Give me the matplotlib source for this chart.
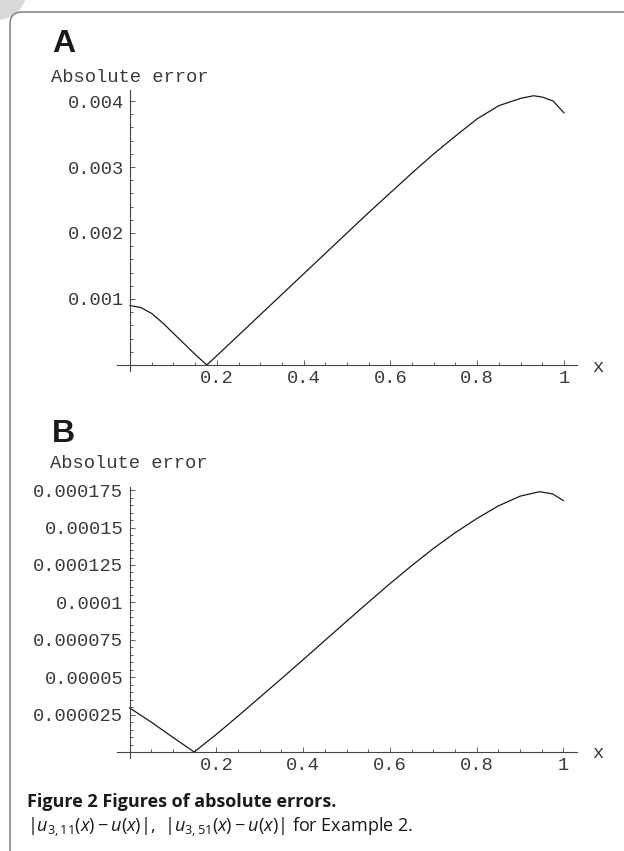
import matplotlib
matplotlib.use("Agg")
from matplotlib import pyplot as plt
from matplotlib import patches

# values
xa = [0.0, 0.025, 0.05, 0.075, 0.1, 0.125, 0.15, 0.177, 0.2, 0.25, 0.3, 0.35, 0.4,
      0.45, 0.5, 0.55, 0.6, 0.65, 0.7, 0.75, 0.8, 0.85, 0.9, 0.93, 0.95, 0.975, 1.0]
ya = [0.00090, 0.00087, 0.00078, 0.00064, 0.00048, 0.00032, 0.00016, 0.0, 0.00014,
      0.00045, 0.00076, 0.00107, 0.00138, 0.00169, 0.00200, 0.00231, 0.00261,
      0.00291, 0.00320, 0.00347, 0.00373, 0.00393, 0.00404, 0.00408, 0.00406,
      0.00400, 0.00382]

xb = [0.0, 0.05, 0.1, 0.149, 0.2, 0.25, 0.3, 0.35, 0.4, 0.45, 0.5, 0.55, 0.6, 0.65,
      0.7, 0.75, 0.8, 0.85, 0.9, 0.945, 0.975, 1.0]
yb = [0.0000295, 0.0000200, 0.0000098, 0.0, 0.0000118, 0.0000240, 0.0000365,
      0.0000490, 0.0000617, 0.0000745, 0.0000873, 0.0001000, 0.0001125, 0.0001245,
      0.0001360, 0.0001465, 0.0001560, 0.0001645, 0.0001710, 0.0001740, 0.0001725,
      0.0001680]

x_ticks = [0.2, 0.4, 0.6, 0.8, 1.0]
x_labels = ['0.2', '0.4', '0.6', '0.8', '1']
ya_ticks = [0.001, 0.002, 0.003, 0.004]
ya_labels = ['0.001', '0.002', '0.003', '0.004']
yb_ticks = [0.000025, 0.00005, 0.000075, 0.0001, 0.000125, 0.00015, 0.000175]
yb_labels = ['0.000025', '0.00005', '0.000075', '0.0001', '0.000125', '0.00015', '0.000175']

W, H = 624, 851
fig = plt.figure(figsize=(W / 100, H / 100), dpi=100)
fig.patch.set_facecolor('white')

mono = 'Liberation Mono'
txt = '#3a3a3a'


def px_axes(left, right, top, bottom):
    return fig.add_axes([left / W, 1 - bottom / H, (right - left) / W, (bottom - top) / H])


def style(ax, x, y, yt, yl, ymin, ymax, yminor):
    ax.plot(x, y, color='#1a1a1a', lw=0.9)
    ax.set_xlim(-0.03, 1.03)
    ax.set_ylim(ymin, ymax)
    ax.patch.set_alpha(0)
    for s in ['top', 'right']:
        ax.spines[s].set_visible(False)
    for s in ['left', 'bottom']:
        ax.spines[s].set_position(('data', 0))
        ax.spines[s].set_color('#444444')
        ax.spines[s].set_linewidth(0.8)
    ax.set_xticks(x_ticks)
    ax.set_xticklabels(x_labels)
    ax.set_xticks([i * 0.05 for i in range(1, 21) if i % 4 != 0], minor=True)
    ax.set_yticks(yt)
    ax.set_yticklabels(yl)
    ax.set_yticks(yminor, minor=True)
    ax.tick_params(which='both', direction='in', color='#444444', width=0.6,
                   labelsize=13.5, labelcolor=txt)
    ax.tick_params(which='major', length=3.8)
    ax.tick_params(which='minor', length=2.2)
    ax.tick_params(axis='y', pad=4.5)
    ax.tick_params(axis='x', pad=3.5)
    for lab in ax.get_xticklabels() + ax.get_yticklabels():
        lab.set_family(mono)


# panel A
axA = px_axes(117, 577, 89.8, 370.9)
minorA = [i * 0.0002 for i in range(1, 21) if i % 5 != 0]
style(axA, xa, ya, ya_ticks, ya_labels, -0.00009, 0.00417, minorA)

# panel B
axB = px_axes(116.5, 576.5, 487.2, 758)
minorB = [i * 0.000005 for i in range(1, 36) if i % 5 != 0]
style(axB, xb, yb, yb_ticks, yb_labels, -0.000004, 0.000177, minorB)

# overlay in pixel coordinates for frame and texts
ov = fig.add_axes([0, 0, 1, 1])
ov.set_xlim(0, W)
ov.set_ylim(H, 0)
ov.axis('off')
ov.patch.set_alpha(0)

ov.add_patch(patches.Circle((-3, -10), 30, color='#d9d9d9', lw=0))
ov.add_patch(patches.FancyBboxPatch((10, 12), 700, 900,
                                    boxstyle='round,pad=0,rounding_size=12',
                                    fill=False, edgecolor='#808080', lw=1.1))

ov.text(52, 44, 'A', fontsize=23, fontweight='bold', family='Liberation Sans',
        color='#1a1a1a', va='center', ha='left')
ov.text(52, 434, 'B', fontsize=23, fontweight='bold', family='Liberation Sans',
        color='#1a1a1a', va='center', ha='left')
ov.text(51, 78, 'Absolute error', fontsize=13.5, family=mono, color=txt,
        va='center', ha='left')
ov.text(50, 463, 'Absolute error', fontsize=13.5, family=mono, color=txt,
        va='center', ha='left')
ov.text(598, 367, 'x', fontsize=13.5, family=mono, color=txt, va='center', ha='center')
ov.text(598, 753, 'x', fontsize=13.5, family=mono, color=txt, va='center', ha='center')

plt.rcParams['mathtext.fontset'] = 'custom'
plt.rcParams['mathtext.rm'] = 'Open Sans'
plt.rcParams['mathtext.it'] = 'Open Sans:italic'
plt.rcParams['mathtext.bf'] = 'Open Sans:bold'

ov.text(27, 802, 'Figure 2 Figures of absolute errors.', fontsize=13,
        fontweight='bold', family='Open Sans', color='#1a1a1a', va='center', ha='left')
ov.text(27, 827, r'$|u_{3,11}(x) - u(x)|$,  $|u_{3,51}(x) - u(x)|$ for Example 2.',
        fontsize=13, family='Open Sans', color='#1a1a1a', va='center', ha='left')

fig.savefig('out.png', dpi=100)
